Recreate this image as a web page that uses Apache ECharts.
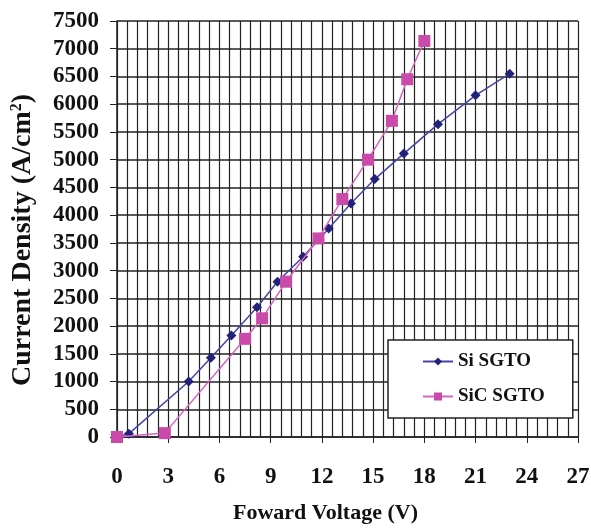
<!DOCTYPE html>
<html>
<head>
<meta charset="utf-8">
<script src="https://cdn.jsdelivr.net/npm/echarts@6/dist/echarts.min.js"></script>
<style>
  html, body { margin: 0; padding: 0; background: #fff; }
  #chart { width: 591px; height: 529px; }
</style>
</head>
<body>
<div id="chart"></div>
<script>
const siVoltage = [0, 0.7, 4.2, 5.5, 6.7, 8.2, 9.4, 10.9, 12.4, 13.7, 15.1, 16.8, 18.8, 21.0, 23.0]
const siCurrent = [0, 60, 1000, 1430, 1830, 2340, 2800, 3250, 3760, 4210, 4650, 5110, 5640, 6160, 6550]
const sicVoltage = [0, 2.8, 7.5, 8.5, 9.9, 11.8, 13.2, 14.7, 16.1, 17.0, 18.0]
const sicCurrent = [0, 70, 1770, 2140, 2800, 3580, 4290, 5000, 5700, 6450, 7140]
const seriesNames = ['Si SGTO', 'SiC SGTO']

const serif = '"Liberation Serif", "DejaVu Serif", serif'
const gridColor = '#222'

const chart = echarts.init(document.getElementById('chart'))
chart.setOption({
  backgroundColor: '#fff',
  animation: false,
  textStyle: { fontFamily: serif },
  grid: { left: 117, right: 13, top: 21, bottom: 92, outerBoundsMode: 'none' },
  legend: {
    orient: 'vertical',
    left: 388,
    top: 340,
    backgroundColor: '#fff',
    borderColor: '#222',
    borderWidth: 1.5,
    borderRadius: 0,
    padding: [12, 28, 12, 34],
    itemGap: 16,
    itemWidth: 30,
    itemHeight: 10,
    textStyle: { fontFamily: serif, fontWeight: 'bold', fontSize: 19, color: '#111' },
    data: seriesNames
  },
  xAxis: {
    type: 'value',
    min: 0,
    max: 27,
    interval: 3,
    name: 'Foward Voltage (V)',
    nameLocation: 'middle',
    nameGap: 65,
    nameTextStyle: { fontFamily: serif, fontWeight: 'bold', fontSize: 22, color: '#111', padding: [0, 44, 0, 0] },
    axisLine: { show: true, lineStyle: { color: gridColor, width: 1.5 } },
    axisTick: { show: true, inside: false, length: 6, lineStyle: { color: gridColor } },
    axisLabel: { margin: 29, fontFamily: serif, fontWeight: 'bold', fontSize: 23, color: '#111' },
    splitLine: { show: true, lineStyle: { color: gridColor, width: 1.2 } },
    minorTick: { show: false, splitNumber: 5 },
    minorSplitLine: { show: true, lineStyle: { color: gridColor, width: 1.2 } }
  },
  yAxis: {
    type: 'value',
    min: 0,
    max: 7500,
    interval: 500,
    name: 'Current Density (A/cm{sup|2})',
    nameLocation: 'middle',
    nameGap: 80,
    nameTextStyle: {
      fontFamily: serif, fontWeight: 'bold', fontSize: 28, color: '#111', padding: [0, 22, 0, 0],
      rich: { sup: { fontFamily: serif, fontWeight: 'bold', fontSize: 16, color: '#111', verticalAlign: 'bottom', padding: [0, 0, 12, 0] } }
    },
    axisLine: { show: true, lineStyle: { color: gridColor, width: 1.5 } },
    axisTick: { show: true, inside: false, length: 7, lineStyle: { color: gridColor } },
    axisLabel: { margin: 18, formatter: v => String(v), fontFamily: serif, fontWeight: 'bold', fontSize: 23, color: '#111' },
    splitLine: { show: true, lineStyle: { color: gridColor, width: 1.6 } }
  },
  series: [
    {
      name: seriesNames[0],
      type: 'line',
      data: siVoltage.map((v, i) => [v, siCurrent[i]]),
      symbol: 'diamond',
      symbolSize: 10,
      lineStyle: { color: '#4545a8', width: 1.5 },
      itemStyle: { color: '#22227a' },
      z: 3
    },
    {
      name: seriesNames[1],
      type: 'line',
      data: sicVoltage.map((v, i) => [v, sicCurrent[i]]),
      symbol: 'rect',
      symbolSize: 12,
      lineStyle: { color: '#d463c2', width: 1.5 },
      itemStyle: { color: '#c94aa8' },
      z: 4
    }
  ]
})
</script>
</body>
</html>
